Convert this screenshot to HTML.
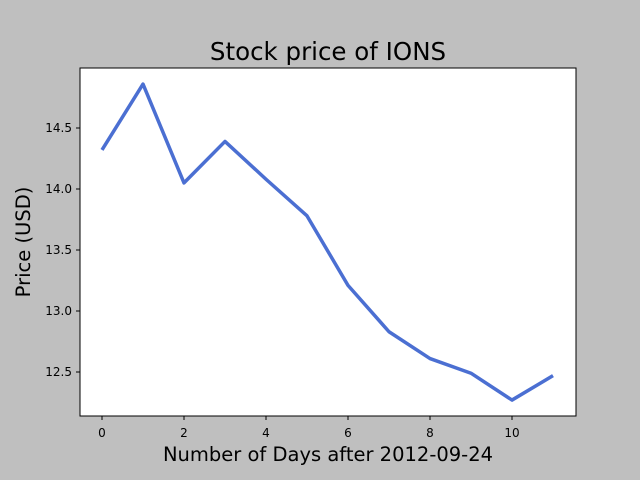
<!DOCTYPE html>
<html><head><meta charset="utf-8"><style>
body{margin:0;background:#bfbfbf;}
svg{display:block;font-family:"DejaVu Sans","Liberation Sans",sans-serif;}
</style></head><body>
<svg id="chart" width="640" height="480">
<rect x="0" y="0" width="640" height="480" fill="#bfbfbf"/>
<rect x="80" y="68" width="496" height="348" fill="#ffffff" stroke="#000" stroke-width="1"/>
<text x="328" y="60" font-size="24.5" text-anchor="middle">Stock price of IONS</text>
<text x="328" y="461" font-size="19.5" text-anchor="middle">Number of Days after 2012-09-24</text>
<text x="0" y="0" font-size="19.5" text-anchor="middle" transform="translate(30,242) rotate(-90)">Price (USD)</text>
<g id="xticks"></g><g id="yticks"></g>
<path id="line" fill="none" stroke="#4b6fd2" stroke-width="3.5" stroke-linejoin="round"/>
</svg>
<script>
const days = [0,1,2,3,4,5,6,7,8,9,10,11];
const prices = [14.32,14.86,14.05,14.39,14.08,13.78,13.21,12.83,12.61,12.49,12.27,12.47];
const xTickValues = [0,2,4,6,8,10];
const yTickValues = [12.5,13.0,13.5,14.0,14.5];
const yTickLabels = ["12.5","13.0","13.5","14.0","14.5"];

const xs = v => 102 + v*41;
const ys = v => 372 - (v-12.5)*122;
const NS = "http://www.w3.org/2000/svg";
const xt = document.getElementById('xticks'), yt = document.getElementById('yticks');
xTickValues.forEach(v=>{
  const l=document.createElementNS(NS,'line');
  l.setAttribute('x1',xs(v));l.setAttribute('x2',xs(v));l.setAttribute('y1',416);l.setAttribute('y2',420);l.setAttribute('stroke','#000');
  
  
  xt.appendChild(l);
  const t=document.createElementNS(NS,'text');
  t.setAttribute('x',xs(v));t.setAttribute('y',437);t.setAttribute('font-size','12');t.setAttribute('text-anchor','middle');
  t.textContent=v;
  
  
  xt.appendChild(t);
});
yTickValues.forEach((v,i)=>{
  const l=document.createElementNS(NS,'line');
  l.setAttribute('x1',76);l.setAttribute('x2',80);l.setAttribute('y1',ys(v));l.setAttribute('y2',ys(v));l.setAttribute('stroke','#000');
  
  
  yt.appendChild(l);
  const t=document.createElementNS(NS,'text');
  t.setAttribute('x',72);t.setAttribute('y',ys(v)+4);t.setAttribute('font-size','12');t.setAttribute('text-anchor','end');
  t.textContent=yTickLabels[i];
  
  
  yt.appendChild(t);
});
document.getElementById('line').setAttribute('d', days.map((d,i)=>(i?'L':'M')+xs(d)+','+ys(prices[i])).join(' '));
</script>
</body></html>
